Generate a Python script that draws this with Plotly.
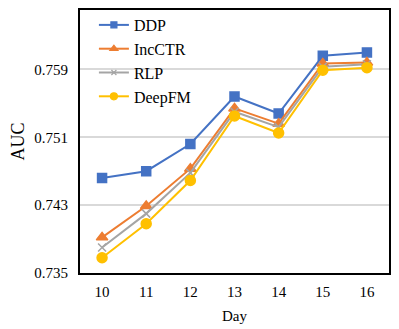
import plotly.graph_objects as go

days = [10, 11, 12, 13, 14, 15, 16]
ddp = [0.7462, 0.7470, 0.7502, 0.7558, 0.7538, 0.7606, 0.7610]
incctr = [0.7392, 0.7429, 0.7473, 0.7544, 0.7526, 0.7597, 0.7598]
rlp = [0.7380, 0.7420, 0.7468, 0.7540, 0.7522, 0.7593, 0.7596]
deepfm = [0.7368, 0.7408, 0.7459, 0.7535, 0.7515, 0.7589, 0.7592]
y_ticks = [0.735, 0.743, 0.751, 0.759]

series = [
    ("DDP", ddp, "#4472C4", "square", 9),
    ("IncCTR", incctr, "#ED7D31", "triangle-up", 10),
    ("RLP", rlp, "#A5A5A5", "x-thin", 8),
    ("DeepFM", deepfm, "#FFC000", "circle", 10),
]

fig = go.Figure()
for name, vals, col, sym, sz in series:
    fig.add_trace(go.Scatter(
        x=days, y=vals, name=name, mode="lines+markers", showlegend=False,
        line=dict(color=col, width=2),
        marker=dict(symbol=sym, size=sz, color=col,
                    line=dict(color=col, width=1.5)),
    ))
# legend entries with the smaller markers used in the reference legend
for name, vals, col, sym, sz in series:
    fig.add_trace(go.Scatter(
        x=[None], y=[None], name=name, mode="lines+markers",
        line=dict(color=col, width=2),
        marker=dict(symbol=sym, size=sz - 3, color=col,
                    line=dict(color=col, width=1.2)),
    ))

font = "Liberation Serif, Times New Roman, serif"
# page body has an 8px margin, so the figure is 8px smaller on each side
fig.update_layout(
    width=391, height=321,
    margin=dict(l=72, r=10, t=1, b=56),
    paper_bgcolor="white", plot_bgcolor="white",
    font=dict(family=font, size=15, color="black"),
    showlegend=True,
    legend=dict(x=0.045, y=1.005, xanchor="left", yanchor="top",
                bgcolor="rgba(0,0,0,0)", font=dict(size=16),
                tracegroupgap=0, itemwidth=30),
    xaxis=dict(range=[9.5, 16.5], tickvals=days, showgrid=False,
               ticklabelstandoff=4,
               title=dict(text="Day", font=dict(size=15), standoff=11),
               showline=True, linecolor="black", linewidth=2, mirror=True,
               ticks="", zeroline=False),
    yaxis=dict(range=[0.735, 0.766], tickvals=y_ticks,
               tickformat=".3f", showgrid=True, gridcolor="#D9D9D9",
               gridwidth=1.5, ticklabelstandoff=7,
               title=dict(text="AUC", font=dict(size=18), standoff=5),
               showline=True, linecolor="black", linewidth=2, mirror=True,
               ticks="", zeroline=False),
)

fig.write_html("out.html")
